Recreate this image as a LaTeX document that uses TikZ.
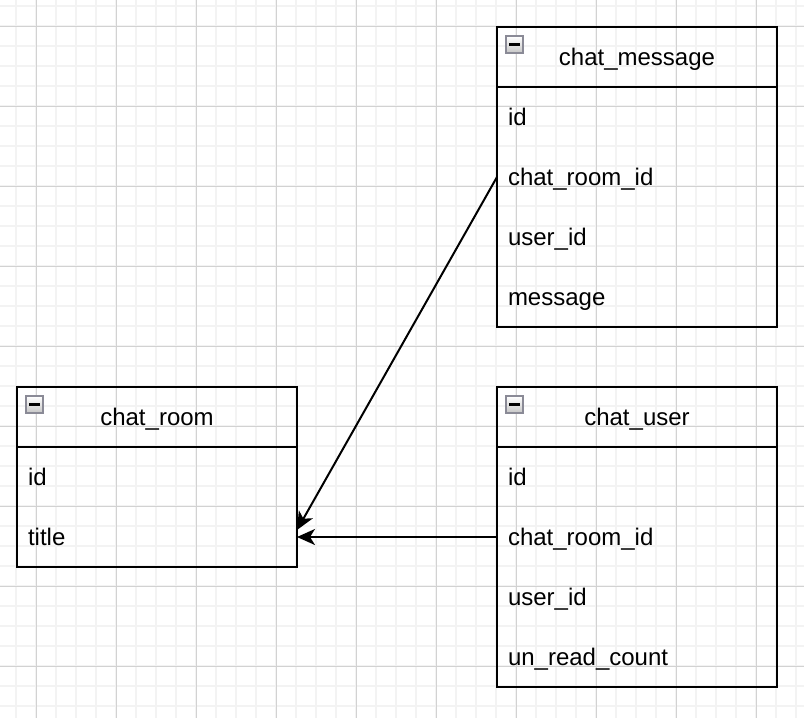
\documentclass[tikz,border=0pt]{standalone}
\usepackage{fontspec}
\setmainfont{Liberation Sans}
\usetikzlibrary{arrows.meta,positioning}

\definecolor{gridminor}{HTML}{F3F3F3}
\definecolor{gridmajor}{HTML}{D2D2D2}
\definecolor{toggleline}{HTML}{8A8A96}

\begin{document}
\begin{tikzpicture}[x=1pt,y=-1pt,->,>={Stealth[length=18pt,width=16pt,inset=5pt]},
        node distance=0pt,
        every node/.style={font=\fontsize{24}{28}\selectfont,outer sep=0pt},
        minor/.style={-,gridminor,line width=1.5pt},
        major/.style={-,gridmajor,line width=1pt},
        head/.style={draw,line width=2pt,minimum width=280pt,minimum height=60pt,
          text height=17pt,text depth=0pt,inner sep=0pt},
        field/.style={minimum width=280pt,minimum height=60pt,text width=258pt,
          align=left,text height=17pt,text depth=0pt,inner xsep=11pt,inner ysep=0pt},
        frame/.style={-,line width=2pt},
        toggle/.style={draw=toggleline,line width=1.2pt,top color=white,bottom color=gray!45,
          minimum size=17pt,inner sep=0pt,anchor=north west},
        link/.style={line width=2pt}]

  \useasboundingbox (0,0) rectangle (804,718);
  \fill[white] (0,0) rectangle (804,718);

  % grid
  \foreach \x in {16,36,...,796} \draw[minor] (\x,0) -- (\x,718);
  \foreach \y in {6,26,...,706} \draw[minor] (0,\y) -- (804,\y);
  \foreach \x in {36,116,...,756} \draw[major] (\x,0) -- (\x,718);
  \foreach \y in {26,106,...,666} \draw[major] (0,\y) -- (804,\y);

  % chat_message
  \node[head] (msg) at (637,57) {chat\_message};
  \node[field,below=of msg] (msg-id) {id};
  \node[field,below=of msg-id] (msg-room) {chat\_room\_id};
  \node[field,below=of msg-room] (msg-user) {user\_id};
  \node[field,below=of msg-user] (msg-text) {message};
  \draw[frame] (msg.north west) rectangle (msg-text.south east);
  \node[toggle] (msg-toggle) at ([shift={(9,9)}]msg.north west) {\rule{11pt}{2.5pt}};

  % chat_room
  \node[head] (room) at (157,417) {chat\_room};
  \node[field,below=of room] (room-id) {id};
  \node[field,below=of room-id] (room-title) {title};
  \draw[frame] (room.north west) rectangle (room-title.south east);
  \node[toggle] (room-toggle) at ([shift={(9,9)}]room.north west) {\rule{11pt}{2.5pt}};

  % chat_user
  \node[head] (user) at (637,417) {chat\_user};
  \node[field,below=of user] (user-id) {id};
  \node[field,below=of user-id] (user-room) {chat\_room\_id};
  \node[field,below=of user-room] (user-user) {user\_id};
  \node[field,below=of user-user] (user-count) {un\_read\_count};
  \draw[frame] (user.north west) rectangle (user-count.south east);
  \node[toggle] (user-toggle) at ([shift={(9,9)}]user.north west) {\rule{11pt}{2.5pt}};

  % relations
  \draw[link] (msg-room.west) -- ([yshift=7pt]room-title.east);
  \draw[link] (user-room.west) -- (room-title.east);

\end{tikzpicture}
\end{document}
